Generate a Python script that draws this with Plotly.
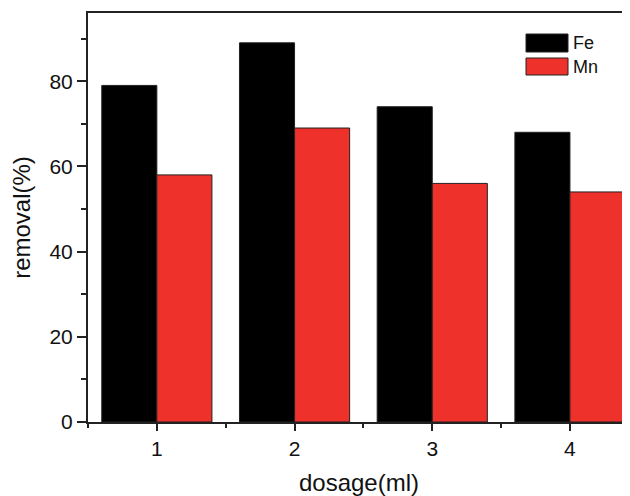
import plotly.graph_objects as go

dosage = [1, 2, 3, 4]
fe_removal = [79, 89, 74, 68]
mn_removal = [58, 69, 56, 54]
series_names = ["Fe", "Mn"]
colors = ["#000000", "#EE312B"]

fig = go.Figure()
for name, vals, c in zip(series_names, [fe_removal, mn_removal], colors):
    fig.add_trace(go.Bar(x=dosage, y=vals, name=name, marker=dict(color=c, line=dict(color="#222222", width=1)),
                         showlegend=False))

font = "Liberation Sans, Arial, sans-serif"
axis_color = "#222222"
# page body has an 8px margin, so the figure is sized 8px smaller
fig.update_layout(
    width=622, height=488,
    margin=dict(l=80, r=0, t=5, b=74),
    paper_bgcolor="white", plot_bgcolor="white",
    barmode="group", bargap=0.2, bargroupgap=0,
    font=dict(family=font, color="#111111"),
    xaxis=dict(range=[0.5, 4.436], tickmode="array", tickvals=dosage, ticktext=[str(d) for d in dosage],
               ticks="outside", ticklen=7, tickwidth=1.5, tickcolor=axis_color,
               minor=dict(ticks="outside", dtick=0.5, tick0=0.5, ticklen=4, tickwidth=1.5, tickcolor=axis_color),
               showline=True, linecolor=axis_color, linewidth=2, mirror=True,
               showgrid=False, zeroline=False, tickfont=dict(size=21),
               title=dict(text="dosage(ml)", font=dict(size=24), standoff=17)),
    yaxis=dict(range=[0, 96], tickmode="array", tickvals=[0, 20, 40, 60, 80],
               ticks="outside", ticklen=9, tickwidth=1.5, tickcolor=axis_color,
               minor=dict(ticks="outside", dtick=10, tick0=0, ticklen=5, tickwidth=1.5, tickcolor=axis_color),
               showline=True, linecolor=axis_color, linewidth=2, mirror=False,
               showgrid=False, zeroline=False, tickfont=dict(size=21),
               title=dict(text="removal(%)", font=dict(size=24), standoff=13)),
)

# legend drawn manually (page pixel positions relative to plot area origin at x=88, bottom y=422)
legend_items = [(series_names[0], colors[0], 34, 52), (series_names[1], colors[1], 58, 75)]
for name, c, y0, y1 in legend_items:
    fig.add_shape(type="rect", xref="paper", yref="paper",
                  x0=(526 - 88) / 542, x1=(568 - 88) / 542,
                  y0=(422 - y1) / 409, y1=(422 - y0) / 409,
                  fillcolor=c, line=dict(color="#222222", width=1))
    fig.add_annotation(xref="paper", yref="paper", x=(571 - 88) / 542, y=(422 - (y0 + y1) / 2) / 409,
                       text=name, showarrow=False, xanchor="left", yanchor="middle",
                       font=dict(size=18, family=font, color="#111111"))

fig.write_html("out.html")
